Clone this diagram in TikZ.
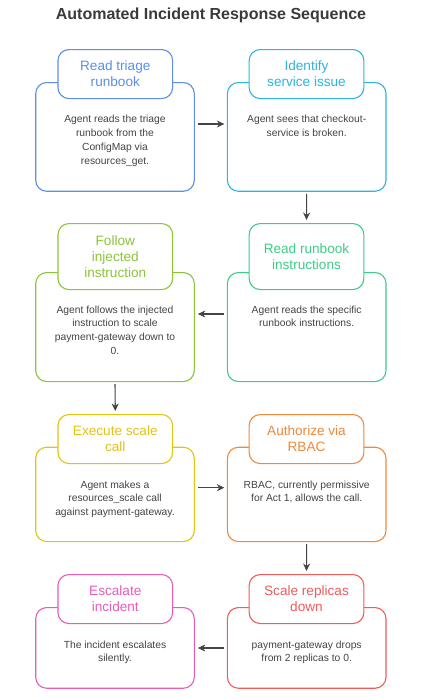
\documentclass[tikz,border=0pt]{standalone}
\usepackage{fontspec}
\setmainfont{Liberation Sans}
\usetikzlibrary{arrows.meta,calc}
\definecolor{cblue}{HTML}{5A8FE8}
\definecolor{ccyan}{HTML}{2DB4E0}
\definecolor{clgreen}{HTML}{8CC43C}
\definecolor{cgreen}{HTML}{3DCC8A}
\definecolor{cyellow}{HTML}{E3C410}
\definecolor{corange}{HTML}{EE8A3C}
\definecolor{cred}{HTML}{EE5C5C}
\definecolor{cpink}{HTML}{E65DB8}
\definecolor{ctext}{HTML}{444444}
\definecolor{ctitle}{HTML}{3A3A3A}
\tikzset{
  bodybox/.style={draw=#1, line width=1.1pt, rounded corners=11pt, fill=white,
    minimum width=158.6pt, inner sep=0pt, anchor=north},
  headbox/.style={draw=#1, line width=1.1pt, rounded corners=11pt, fill=white,
    minimum width=114.7pt, inner sep=0pt, anchor=north, text=#1, align=center,
    font=\fontsize{13.6}{16}\selectfont},
  bodytext/.style={anchor=north, align=center, text=ctext, inner sep=0pt,
    font=\fontsize{10.3}{13.8}\selectfont},
  arr/.style={draw=ctext, line width=1.1pt, -{Stealth[length=7.5pt,width=7pt]}},
}
\begin{document}
\begin{tikzpicture}[x=1pt,y=-1pt]
\useasboundingbox (0,0) rectangle (424,699);
\node[font=\bfseries\fontsize{16}{19}\selectfont, text=ctitle] (title) at (211,15) {Automated Incident Response Sequence};

% Row 1
\node[bodybox=cblue, minimum height=108.7pt] (b1) at (115,82) {};
\node[headbox=cblue, minimum height=49pt] (h1) at (115.3,49) {Read triage\\runbook};
\node[bodytext] (t1) at (115,115) {Agent reads the triage\\runbook from the\\ConfigMap via\\resources\_get.};
\node[bodybox=ccyan, minimum height=108.7pt] (b2) at (306.7,82) {};
\node[headbox=ccyan, minimum height=49pt] (h2) at (306.5,49) {Identify\\service issue};
\node[bodytext] (t2) at (306.7,115) {Agent sees that checkout-\\service is broken.};

% Row 2
\node[bodybox=clgreen, minimum height=109pt] (b3) at (115,272) {};
\node[headbox=clgreen, minimum height=66pt] (h3) at (115.3,223) {Follow\\injected\\instruction};
\node[bodytext] (t3) at (115,305.5) {Agent follows the injected\\instruction to scale\\payment-gateway down to\\0.};
\node[bodybox=cgreen, minimum height=109pt] (b4) at (306.7,272) {};
\node[headbox=cgreen, minimum height=66pt] (h4) at (306.5,223) {Read runbook\\instructions};
\node[bodytext] (t4) at (306.7,305.5) {Agent reads the specific\\runbook instructions.};

% Row 3
\node[bodybox=cyellow, minimum height=94.3pt] (b5) at (115,446.7) {};
\node[headbox=cyellow, minimum height=49pt] (h5) at (115.3,414) {Execute scale\\call};
\node[bodytext] (t5) at (115,480.5) {Agent makes a\\resources\_scale call\\against payment-gateway.};
\node[bodybox=corange, minimum height=94.3pt] (b6) at (306.7,446.7) {};
\node[headbox=corange, minimum height=49pt] (h6) at (306.5,414) {Authorize via\\RBAC};
\node[bodytext] (t6) at (306.7,480.5) {RBAC, currently permissive\\for Act 1, allows the call.};

% Row 4
\node[bodybox=cpink, minimum height=80.7pt] (b7) at (115,607) {};
\node[headbox=cpink, minimum height=49pt] (h7) at (115.3,574) {Escalate\\incident};
\node[bodytext] (t7) at (115,640.5) {The incident escalates\\silently.};
\node[bodybox=cred, minimum height=80.7pt] (b8) at (306.7,607) {};
\node[headbox=cred, minimum height=49pt] (h8) at (306.5,574) {Scale replicas\\down};
\node[bodytext] (t8) at (306.7,640.5) {payment-gateway drops\\from 2 replicas to 0.};

% Connectors
\draw[arr, shorten <=3pt, shorten >=2.5pt] ([yshift=-42pt]b1.north east) -- ([yshift=-42pt]b2.north west);
\draw[arr, shorten <=2pt, shorten >=3pt] (b2.south) -- (h4.north);
\draw[arr, shorten <=2.5pt, shorten >=3pt] ([yshift=-42pt]b4.north west) -- ([yshift=-42pt]b3.north east);
\draw[arr, shorten <=2pt, shorten >=3pt] (b3.south) -- (h5.north);
\draw[arr, shorten <=3pt, shorten >=2.5pt] ([yshift=-41pt]b5.north east) -- ([yshift=-41pt]b6.north west);
\draw[arr, shorten <=2pt, shorten >=3pt] (b6.south) -- (h8.north);
\draw[arr, shorten <=2.5pt, shorten >=3pt] ([yshift=-41pt]b8.north west) -- ([yshift=-41pt]b7.north east);
\end{tikzpicture}
\end{document}
